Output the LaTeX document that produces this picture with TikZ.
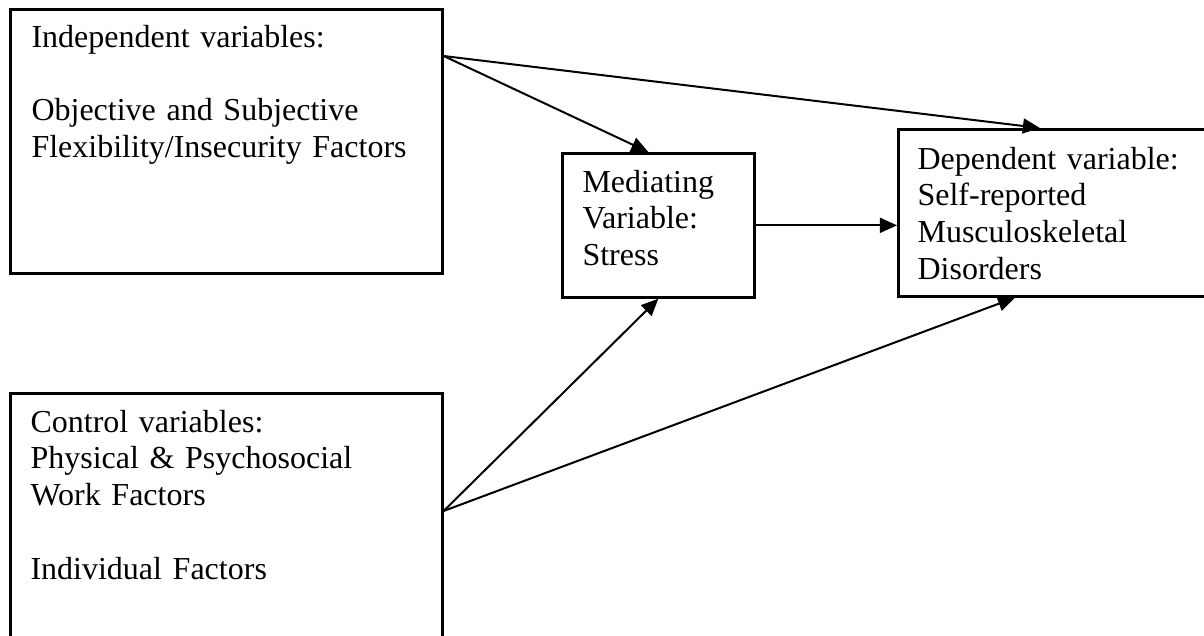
\documentclass[tikz,border=0pt]{standalone}
\usepackage{fontspec}
\setmainfont{Liberation Serif}
\usetikzlibrary{arrows.meta, positioning}

\begin{document}
\begin{tikzpicture}[
    x=0.375pt, y=-0.375pt,
    box/.style={rectangle, draw, line width=1pt, anchor=north west, inner sep=0pt},
    txt/.style={anchor=base west, inner sep=0pt, align=left, font=\fontsize{12pt}{13.8pt}\selectfont},
    arrow/.style={-{Triangle[length=6.4pt, width=5.6pt]}, line width=0.75pt}
]
\path[use as bounding box, clip] (0,0) rectangle (1204,635);

% boxes
\node[box, minimum width=162pt, minimum height=99pt] (indep) at (9,8) {};
\node[box, minimum width=162pt, minimum height=102pt] (control) at (9,392) {};
\node[box, minimum width=72pt, minimum height=54pt] (mediating) at (561,152) {};
\node[box, minimum width=117.4pt, minimum height=62.6pt] (dependent) at (897,128) {};

% texts
\node[txt, text width=150pt] (indeptext) at ([shift={(22,39)}]indep.north west)
    {Independent variables:\\[13.8pt]Objective and Subjective\\Flexibility/Insecurity Factors};
\node[txt, text width=150pt] (controltext) at ([shift={(21,40)}]control.north west)
    {Control variables:\\Physical \& Psychosocial\\Work Factors\\[13.8pt]Individual Factors};
\node[txt, text width=60pt] (mediatingtext) at ([shift={(21,40)}]mediating.north west)
    {Mediating\\Variable:\\Stress};
\node[txt, text width=105pt] (dependenttext) at ([shift={(20,41)}]dependent.north west)
    {Dependent variable:\\Self-reported\\Musculoskeletal\\Disorders};

% ports
\coordinate (indepport) at ([yshift=-18pt]indep.north east);
\coordinate (controlport) at ([yshift=-44.6pt]control.north east);

\draw[arrow] (indepport) -- ([xshift=-3.75pt]mediating.north);
\draw[arrow] (indepport) -- ([xshift=53.6pt]dependent.north west);
\draw[arrow] (mediating.east) -- (mediating.east -| dependent.west);
\draw[arrow] (controlport) -- (mediating.south);
\draw[arrow] (controlport) -- ([xshift=44.25pt]dependent.south west);
\end{tikzpicture}
\end{document}
